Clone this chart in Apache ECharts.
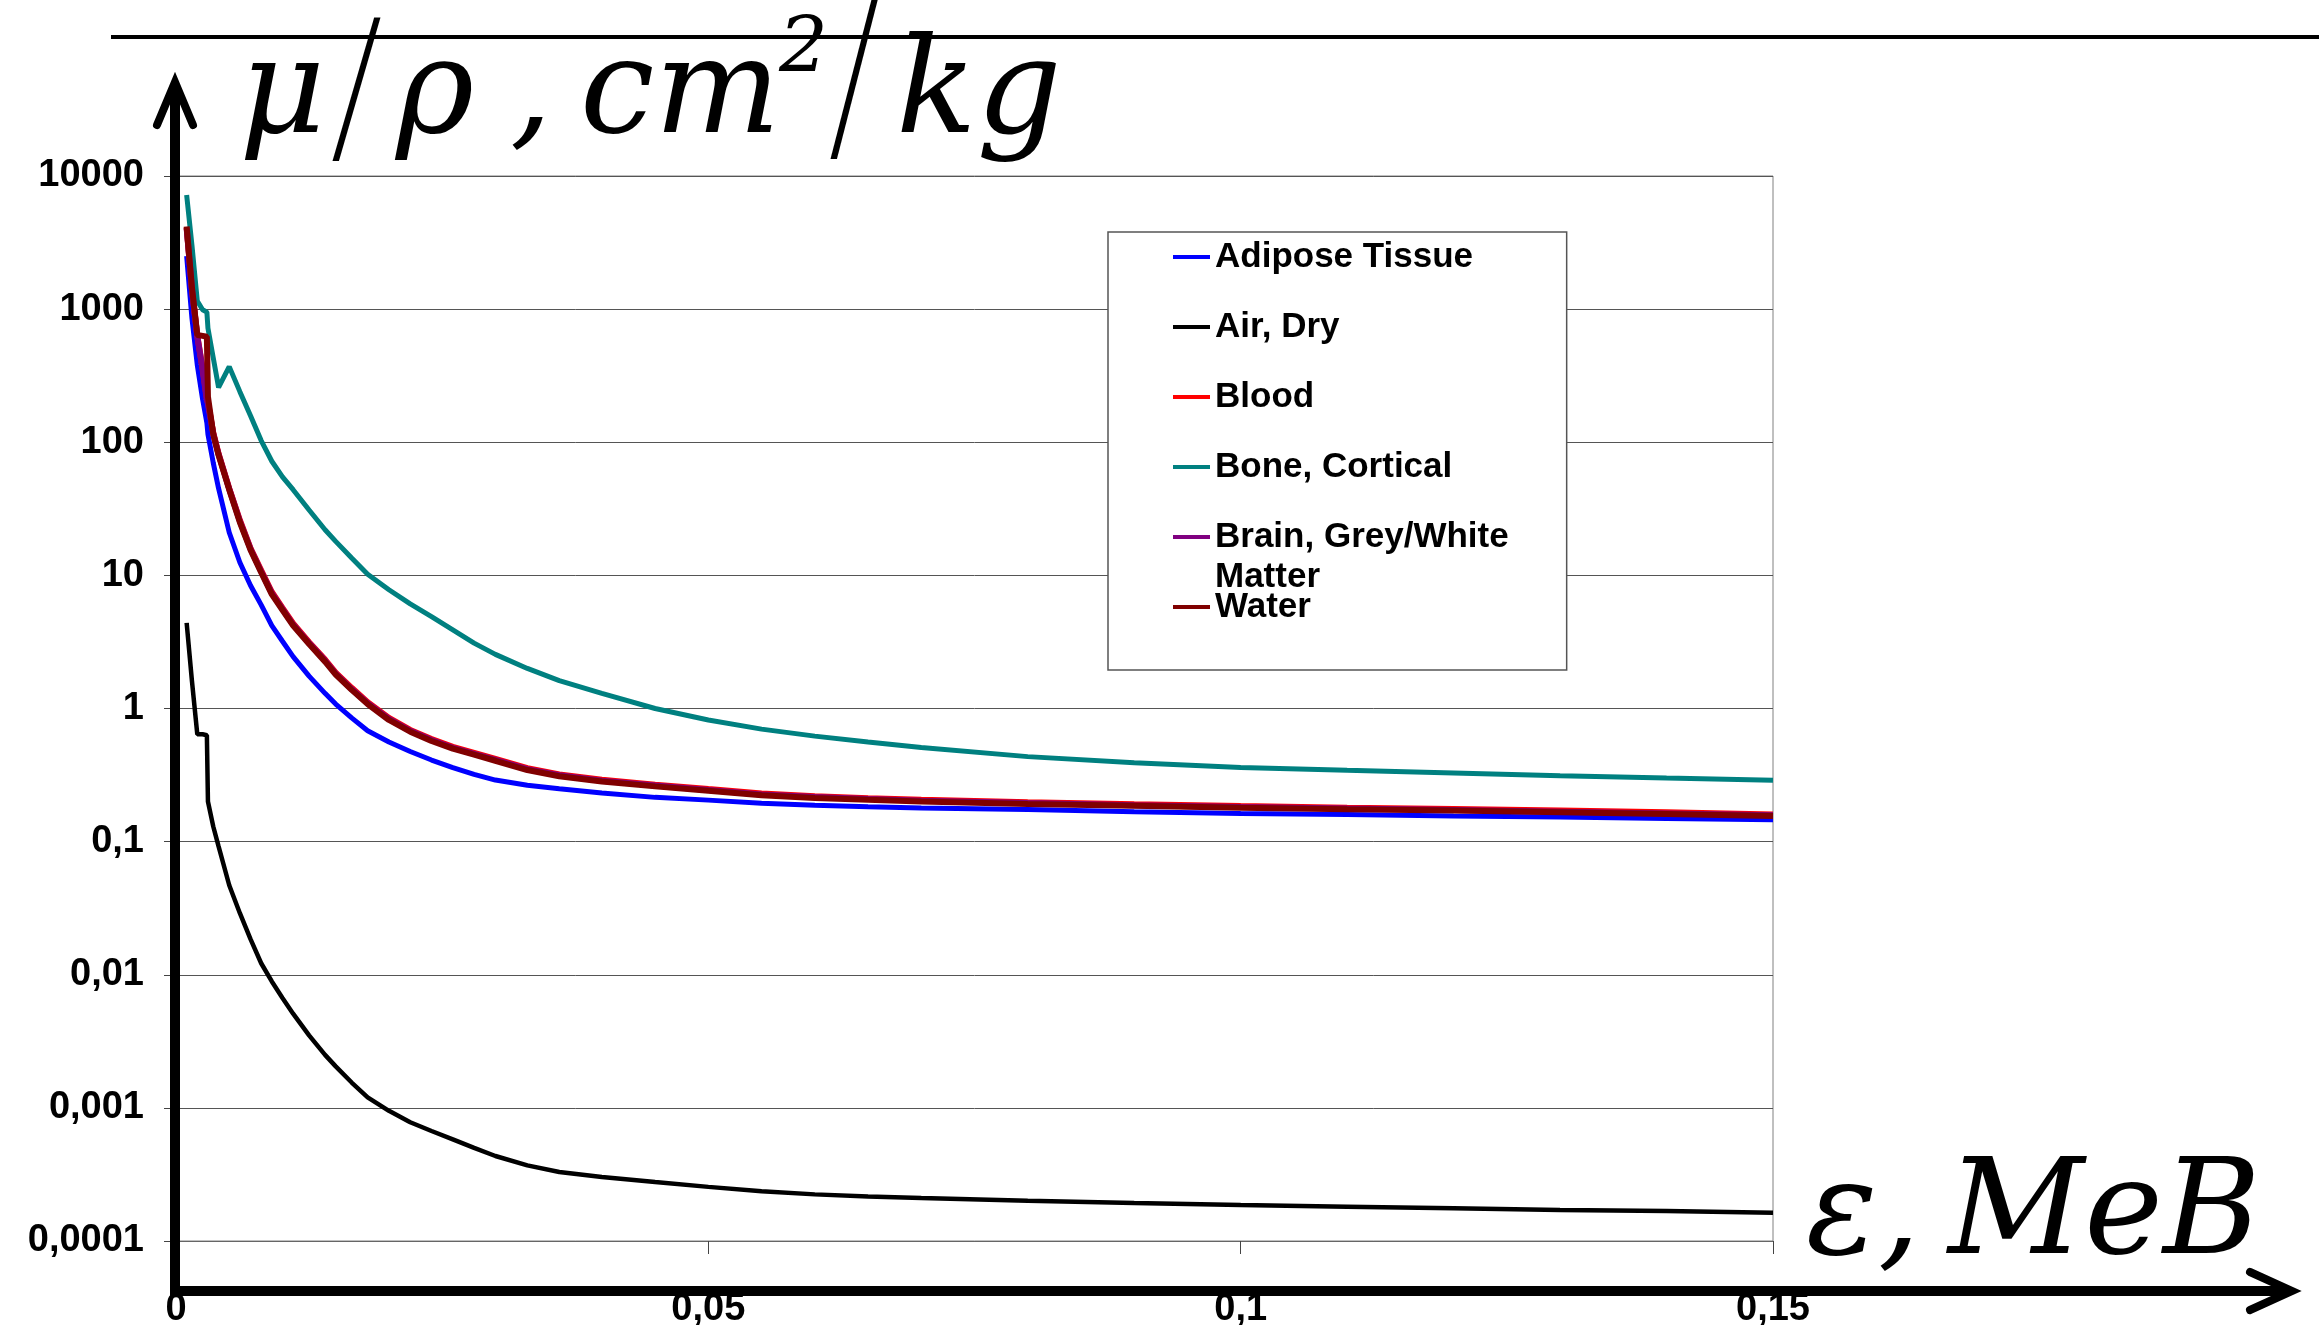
<!DOCTYPE html>
<html><head><meta charset="utf-8">
<script src="https://cdn.jsdelivr.net/npm/echarts@6/dist/echarts.min.js"></script>
<style>html,body{margin:0;padding:0;background:#fff}#chart{width:2319px;height:1325px}</style>
</head><body><div id="chart"></div>
<script>
// Photon energy, MeV
const energyMeV = [0.001, 0.0015, 0.002, 0.0025, 0.0029, 0.003, 0.0035, 0.004, 0.005, 0.006, 0.007, 0.008, 0.009, 0.010, 0.011, 0.0125, 0.014, 0.015, 0.0165, 0.018, 0.020, 0.022, 0.024, 0.026, 0.028, 0.030, 0.033, 0.036, 0.040, 0.045, 0.050, 0.055, 0.060, 0.065, 0.070, 0.080, 0.090, 0.100, 0.110, 0.120, 0.130, 0.140, 0.150];

const adipose = [2500, 850, 380, 210, 140, 115, 70, 45, 21, 12.5, 8.4, 6.0, 4.2, 3.2, 2.45, 1.75, 1.3, 1.08, 0.85, 0.68, 0.56, 0.475, 0.41, 0.36, 0.32, 0.29, 0.265, 0.25, 0.232, 0.215, 0.205, 0.194, 0.188, 0.183, 0.179, 0.174, 0.168, 0.163, 0.16, 0.156, 0.153, 0.149, 0.146];
const airDry = [4.4, 1.6, 0.64, 0.64, 0.63, 0.2, 0.13, 0.092, 0.047, 0.029, 0.0185, 0.0122, 0.0089, 0.0067, 0.0051, 0.0035, 0.0025, 0.00205, 0.00155, 0.0012, 0.00095, 0.00078, 0.00067, 0.00058, 0.0005, 0.000435, 0.00037, 0.00033, 0.000302, 0.000277, 0.000255, 0.000236, 0.000224, 0.000216, 0.00021, 0.000201, 0.000193, 0.000186, 0.000181, 0.000176, 0.000171, 0.000168, 0.000163];
const blood = [4100, 1400, 630, 360, 215, 200, 118, 82, 45, 26, 16, 10.9, 7.5, 5.7, 4.35, 3.15, 2.33, 1.86, 1.43, 1.115, 0.85, 0.69, 0.59, 0.515, 0.465, 0.418, 0.356, 0.32, 0.292, 0.268, 0.248, 0.23, 0.219, 0.212, 0.206, 0.198, 0.191, 0.185, 0.18, 0.176, 0.171, 0.166, 0.16];
const boneCortical = [7200, 3000, 1150, 990, 950, 720, 430, 258, 370, 240, 158, 103, 72, 55, 44, 31, 22, 18, 13.5, 10.2, 7.8, 6.1, 4.9, 3.9, 3.1, 2.55, 2.0, 1.62, 1.3, 1.0, 0.82, 0.70, 0.62, 0.56, 0.51, 0.435, 0.392, 0.36, 0.343, 0.328, 0.313, 0.3, 0.289];
const brain = [4050, 1420, 625, 350, 205, 195, 116, 81, 44.5, 25.5, 15.8, 10.7, 7.35, 5.6, 4.27, 3.1, 2.29, 1.83, 1.4, 1.095, 0.835, 0.68, 0.58, 0.507, 0.457, 0.411, 0.35, 0.315, 0.287, 0.264, 0.244, 0.226, 0.216, 0.209, 0.203, 0.195, 0.188, 0.182, 0.177, 0.173, 0.168, 0.163, 0.158];
const water = [4170, 1450, 640, 630, 620, 220, 115, 80, 44, 25, 15.5, 10.5, 7.2, 5.5, 4.2, 3.05, 2.25, 1.8, 1.38, 1.08, 0.82, 0.67, 0.57, 0.5, 0.45, 0.405, 0.345, 0.31, 0.283, 0.26, 0.241, 0.223, 0.213, 0.206, 0.2, 0.192, 0.186, 0.18, 0.175, 0.171, 0.166, 0.161, 0.156];

const seriesNames = ['Adipose Tissue', 'Air, Dry', 'Blood', 'Bone, Cortical', 'Brain, Grey/White', 'Water'];
const seriesValues = [adipose, airDry, blood, boneCortical, brain, water];
const seriesColors = ['#0000FF', '#000000', '#FF0000', '#008080', '#800080', '#800000'];
const seriesWidths = [5, 4.5, 6, 5, 6, 6];

const xTickLabels = ['0', '0,05', '0,1', '0,15'];
const yTickLabels = ['0,0001', '0,001', '0,01', '0,1', '1', '10', '100', '1000', '10000'];

const sans = '"Liberation Sans", Arial, sans-serif';
const mathFont = '"DejaVu Serif", "Liberation Serif", serif';
const slashFont = '"Liberation Serif", "Times New Roman", serif';

const chart = echarts.init(document.getElementById('chart'), null, {renderer: 'canvas'});

function txt(text, x, y, size) {
  return {
    type: 'text', z: 110,
    style: {text: text, x: x, y: y, font: 'italic ' + size + 'px ' + mathFont, fill: '#000', align: 'left', verticalAlign: 'middle'}
  };
}
function slash(x, y, sy) {
  return {
    type: 'text', z: 110, x: x, y: y, scaleY: sy,
    style: {text: '/', x: 0, y: 0, font: 'italic 120px ' + slashFont, fill: '#000', align: 'left', verticalAlign: 'middle'}
  };
}

const option = {
  animation: false,
  backgroundColor: '#ffffff',
  grid: {left: 176, right: 546, top: 176, bottom: 84, containLabel: false, outerBoundsMode: 'none',
    show: true, borderColor: '#808080', borderWidth: 1, backgroundColor: 'transparent'},
  xAxis: {
    type: 'value', min: 0, max: 0.15, interval: 0.05,
    axisLine: {show: true, lineStyle: {color: '#666', width: 1}},
    axisTick: {show: true, length: 13, lineStyle: {color: '#444', width: 1}},
    splitLine: {show: false},
    axisLabel: {margin: 50, fontSize: 38, fontWeight: 'bold', color: '#000', fontFamily: sans,
      formatter: function (v) { return xTickLabels[Math.round(v / 0.05)]; }}
  },
  yAxis: {
    type: 'log', logBase: 10, min: 0.0001, max: 10000, splitNumber: 8,
    axisLine: {show: false},
    axisTick: {show: true, length: 12, lineStyle: {color: '#444', width: 1}},
    minorTick: {show: false}, minorSplitLine: {show: false},
    splitLine: {show: true, lineStyle: {color: '#555', width: 1}},
    axisLabel: {margin: 32, fontSize: 38, fontWeight: 'bold', color: '#000', fontFamily: sans, padding: [6, 0, 0, 0],
      formatter: function (v) { return yTickLabels[Math.round(Math.log10(v)) + 4]; }}
  },
  legend: {
    orient: 'vertical', left: 1108, top: 232,
    padding: [5, 58, 43, 65],
    backgroundColor: '#ffffff', borderColor: '#555', borderWidth: 1.5,
    icon: 'rect', itemWidth: 37, itemHeight: 4, itemGap: 30,
    textStyle: {fontSize: 35, fontWeight: 'bold', color: '#000', fontFamily: sans, lineHeight: 40},
    data: seriesNames
  },
  series: seriesNames.map(function (name, i) {
    return {
      name: name, type: 'line', showSymbol: false, symbol: 'none',
      color: seriesColors[i],
      lineStyle: {color: seriesColors[i], width: seriesWidths[i]},
      data: energyMeV.map(function (e, k) { return [e, seriesValues[i][k]]; })
    };
  }),
  graphic: [
    {type: 'line', z: 100, shape: {x1: 111, y1: 37, x2: 2319, y2: 37}, style: {stroke: '#000', lineWidth: 4}},
    {type: 'line', z: 100, shape: {x1: 175, y1: 1296, x2: 175, y2: 90}, style: {stroke: '#000', lineWidth: 10}},
    {type: 'polyline', z: 100, shape: {points: [[157, 125], [175, 82], [193, 125]]}, style: {stroke: '#000', lineWidth: 8, fill: 'none', lineCap: 'round', lineJoin: 'miter'}},
    {type: 'line', z: 100, shape: {x1: 170, y1: 1291, x2: 2285, y2: 1291}, style: {stroke: '#000', lineWidth: 10}},
    {type: 'polyline', z: 100, shape: {points: [[2250, 1272], [2292, 1291], [2250, 1310]]}, style: {stroke: '#000', lineWidth: 8, fill: 'none', lineCap: 'round', lineJoin: 'miter'}},
    {type: 'text', z: 110, style: {text: 'Matter', x: 1215, y: 577, font: 'bold 35px ' + sans, fill: '#000', align: 'left', verticalAlign: 'middle'}},
    txt('μ', 239, 97, 133),
    slash(338, 103, 1.79),
    txt('ρ', 396, 97, 133),
    txt(',', 510, 97, 133),
    txt('cm', 580, 97, 133),
    txt('2', 779, 51, 77),
    slash(836, 94, 2.01),
    txt('kg', 896, 97, 133),
    txt('ε', 1806, 1218, 133),
    txt(',', 1878, 1218, 133),
    txt('MeB', 1948, 1218, 133)
  ]
};
chart.setOption(option);
</script>
</body></html>
